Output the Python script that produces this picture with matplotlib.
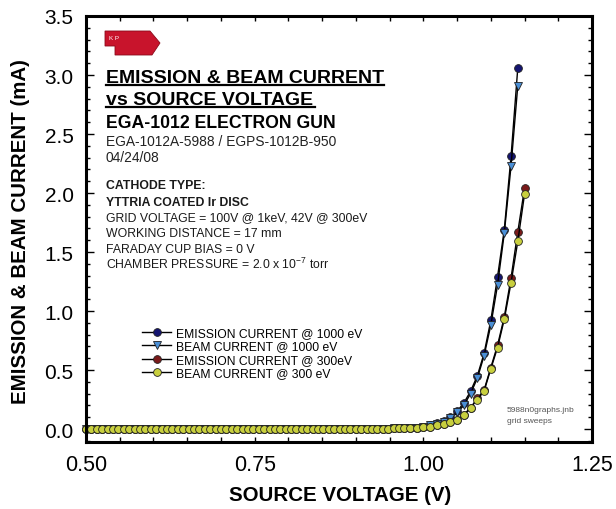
#!/usr/bin/env python3
# -*- coding: utf-8 -*-

import matplotlib
matplotlib.use("Agg")
import matplotlib.pyplot as plt
from matplotlib.lines import Line2D
from matplotlib.patches import Polygon
from matplotlib.ticker import MultipleLocator, FormatStrFormatter

plt.rcParams["font.family"] = ["Liberation Sans", "DejaVu Sans"]
plt.rcParams["mathtext.fontset"] = "custom"
plt.rcParams["mathtext.rm"] = "Liberation Sans"
plt.rcParams["mathtext.it"] = "Liberation Sans:italic"
plt.rcParams["mathtext.bf"] = "Liberation Sans:bold"

# flat part of the sweep (all four curves sit on zero here)
v_low = [0.500, 0.508, 0.516, 0.524, 0.532, 0.540, 0.548, 0.556, 0.564, 0.572,
         0.580, 0.588, 0.596, 0.604, 0.612, 0.620, 0.628, 0.636, 0.644, 0.652,
         0.660, 0.668, 0.676, 0.684, 0.692, 0.700, 0.708, 0.716, 0.724, 0.732,
         0.740, 0.748, 0.756, 0.764, 0.772, 0.780, 0.788, 0.796, 0.804, 0.812,
         0.820, 0.828, 0.836, 0.844, 0.852, 0.860, 0.868, 0.876, 0.884, 0.892,
         0.900, 0.908, 0.916, 0.924, 0.932, 0.940, 0.948, 0.956, 0.964, 0.972,
         0.980, 0.990]
i_low = [0.0, 0.0, 0.0, 0.0, 0.0, 0.0, 0.0, 0.0, 0.0, 0.0,
         0.0, 0.0, 0.0, 0.0, 0.0, 0.0, 0.0, 0.0, 0.0, 0.0,
         0.0, 0.0, 0.0, 0.0, 0.0, 0.0, 0.0, 0.0, 0.0, 0.0,
         0.0, 0.0, 0.0, 0.0, 0.0, 0.0, 0.0, 0.0, 0.0, 0.0,
         0.0, 0.0, 0.0, 0.0, 0.0, 0.0, 0.0, 0.0, 0.0, 0.001,
         0.001, 0.001, 0.002, 0.002, 0.003, 0.003, 0.004, 0.005, 0.006, 0.007,
         0.008, 0.010]

# rising part
v_1000 = [1.00, 1.01, 1.02, 1.03, 1.04, 1.05, 1.06, 1.07, 1.08, 1.09, 1.10, 1.11, 1.12, 1.13, 1.14]
emis_1000 = [0.02, 0.03, 0.05, 0.07, 0.10, 0.15, 0.22, 0.32, 0.45, 0.64, 0.92, 1.29, 1.69, 2.31, 3.06]
beam_1000 = [0.02, 0.03, 0.04, 0.06, 0.09, 0.14, 0.20, 0.30, 0.43, 0.62, 0.88, 1.22, 1.66, 2.23, 2.91]

v_300 = [1.00, 1.01, 1.02, 1.03, 1.04, 1.05, 1.06, 1.07, 1.08, 1.09, 1.10, 1.11, 1.12, 1.13, 1.14, 1.15]
emis_300 = [0.014, 0.02, 0.03, 0.04, 0.06, 0.08, 0.12, 0.18, 0.26, 0.33, 0.52, 0.71, 0.95, 1.28, 1.67, 2.04]
beam_300 = [0.014, 0.02, 0.03, 0.04, 0.06, 0.08, 0.12, 0.18, 0.25, 0.32, 0.51, 0.69, 0.93, 1.24, 1.59, 1.99]

labels = ["EMISSION CURRENT @ 1000 eV", "BEAM CURRENT @ 1000 eV",
          "EMISSION CURRENT @ 300eV", "BEAM CURRENT @ 300 eV"]

W, H = 616, 510


def fx(x):
    return x / W


def fy(y):
    return 1 - y / H


fig = plt.figure(figsize=(W / 100, H / 100), dpi=100)
ax = fig.add_axes([fx(86), fy(443), (592 - 86) / W, (443 - 17) / H])

series = [
    (v_low + v_1000, i_low + emis_1000, "o", "#141470"),
    (v_low + v_1000, i_low + beam_1000, "v", "#4a8fd6"),
    (v_low + v_300, i_low + emis_300, "o", "#7a1a1a"),
    (v_low + v_300, i_low + beam_300, "o", "#c8cf3e"),
]
for (xs, ys, mk, col), lab in zip(series, labels):
    ax.plot(xs, ys, color="black", lw=1.0, marker=mk, markersize=5.6,
            markerfacecolor=col, markeredgecolor="#222222", markeredgewidth=0.6,
            label=lab, clip_on=False)

ax.set_xlim(0.5, 1.25)
ax.set_ylim(-0.11, 3.5)
ax.xaxis.set_major_locator(MultipleLocator(0.25))
ax.xaxis.set_minor_locator(MultipleLocator(0.05))
ax.yaxis.set_major_locator(MultipleLocator(0.5))
ax.yaxis.set_minor_locator(MultipleLocator(0.1))
ax.xaxis.set_major_formatter(FormatStrFormatter("%.2f"))
ax.yaxis.set_major_formatter(FormatStrFormatter("%.1f"))
ax.tick_params(axis="x", which="both", direction="in", top=True, length=3.5, width=1.0,
               labelsize=15.5, pad=9, colors="black")
ax.tick_params(axis="y", which="major", direction="in", right=True, length=6, width=1.0,
               labelsize=15, pad=9)
ax.tick_params(axis="y", which="minor", direction="in", right=True, length=3, width=1.0)
for sp in ax.spines.values():
    sp.set_linewidth(2.2)

fig.text(fx(340), fy(496), "SOURCE VOLTAGE (V)", fontsize=14.8, fontweight="bold",
         ha="center", va="center")
fig.text(fx(21), fy(232), "EMISSION & BEAM CURRENT (mA)", fontsize=14.8, fontweight="bold",
         ha="center", va="center", rotation=90)

ax.legend(loc="upper left", bbox_to_anchor=(fx(142), fy(328)), bbox_transform=fig.transFigure,
          frameon=False, fontsize=8.7, borderpad=0, borderaxespad=0, labelspacing=0.12,
          handlelength=2.4, handletextpad=0.45, numpoints=1)

# KP logo
logo = Polygon([(fx(105), fy(32)), (fx(150), fy(32)), (fx(160), fy(44)), (fx(152), fy(56)),
                (fx(115), fy(56)), (fx(115), fy(47)), (fx(105), fy(47))],
               closed=True, transform=fig.transFigure, facecolor="#c8142c",
               edgecolor="#8a0a1a", lw=0.6)
fig.add_artist(logo)
fig.text(fx(109), fy(39), "K P", fontsize=4.5, color="white", ha="left", va="center")

# title block
fig.text(fx(106), fy(83), "EMISSION & BEAM CURRENT", fontsize=14, fontweight="bold", va="baseline")
fig.add_artist(Line2D([fx(106), fx(384)], [fy(86), fy(86)], color="black", lw=1.6,
                      transform=fig.transFigure))
fig.text(fx(106), fy(105), "vs SOURCE VOLTAGE", fontsize=14, fontweight="bold", va="baseline")
fig.add_artist(Line2D([fx(106), fx(315)], [fy(108), fy(108)], color="black", lw=1.6,
                      transform=fig.transFigure))
fig.text(fx(106), fy(128), "EGA-1012 ELECTRON GUN", fontsize=12.7, fontweight="bold", va="baseline")
fig.text(fx(106), fy(146.5), "EGA-1012A-5988 / EGPS-1012B-950", fontsize=9.9, va="baseline",
         color="#222222")
fig.text(fx(106), fy(161.5), "04/24/08", fontsize=9.9, va="baseline", color="#222222")

info = [
    ("CATHODE TYPE:", "bold", 189),
    ("YTTRIA COATED Ir DISC", "bold", 206),
    ("GRID VOLTAGE = 100V @ 1keV, 42V @ 300eV", "normal", 221.5),
    ("WORKING DISTANCE = 17 mm", "normal", 237),
    ("FARADAY CUP BIAS = 0 V", "normal", 253),
    ("CHAMBER PRESSURE = 2.0 x 10$^{-7}$ torr", "normal", 269),
]
for txt, wt, yb in info:
    fig.text(fx(106), fy(yb), txt, fontsize=8.8, fontweight=wt, va="baseline", color="#1a1a1a")

fig.text(fx(507), fy(411), "5988n0graphs.jnb", fontsize=6, color="#555555", va="center")
fig.text(fx(507), fy(422), "grid sweeps", fontsize=6, color="#555555", va="center")

fig.savefig("out.png", dpi=100)
